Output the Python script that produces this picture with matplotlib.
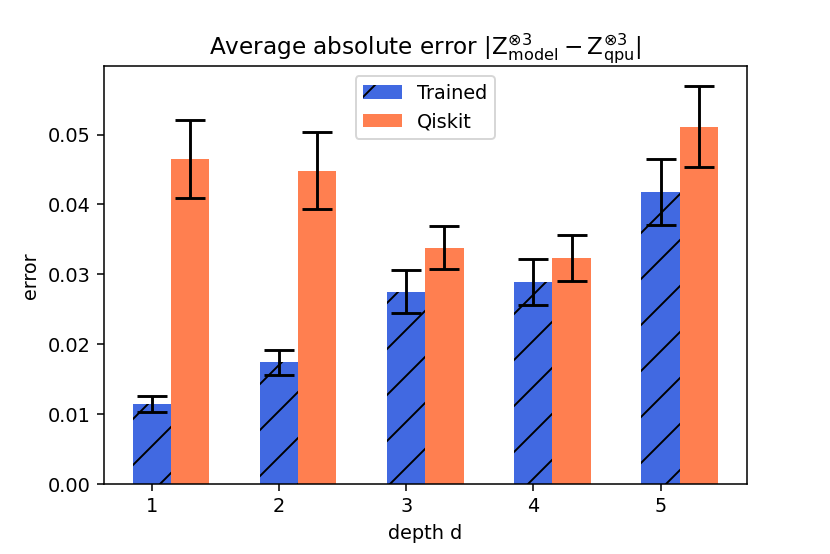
import numpy as np
import matplotlib.pyplot as plt

depths = [1, 2, 3, 4, 5]
trained_mean = [0.01145, 0.0174, 0.0275, 0.02885, 0.0418]
trained_err = [0.0012, 0.0018, 0.0031, 0.0033, 0.0047]
qiskit_mean = [0.0465, 0.0448, 0.0338, 0.0324, 0.0511]
qiskit_err = [0.0056, 0.0055, 0.0031, 0.0033, 0.0058]

width = 0.3
x = np.array(depths)

fig, ax = plt.subplots(figsize=(830 / 138.4, 554 / 138.4), dpi=138.4)
fig.subplots_adjust(bottom=70 / 554)

# Trained は目盛り位置、Qiskit はその右隣
ax.bar(x, trained_mean, width, yerr=trained_err, capsize=8,
       color="royalblue", hatch="/", label="Trained",
       error_kw=dict(ecolor="black", elinewidth=1.5, capthick=1.5))
ax.bar(x + width, qiskit_mean, width, yerr=qiskit_err, capsize=8,
       color="coral", label="Qiskit",
       error_kw=dict(ecolor="black", elinewidth=1.5, capthick=1.5))

ax.set_xticks(depths)
ax.set_xlabel("depth d")
ax.set_ylabel("error")
ax.set_title(r"Average absolute error $|\mathrm{Z}^{\otimes 3}_{\mathrm{model}}"
             r" - \mathrm{Z}^{\otimes 3}_{\mathrm{qpu}}|$")
ax.legend(loc="upper center")

plt.savefig("out.png")
plt.close()
